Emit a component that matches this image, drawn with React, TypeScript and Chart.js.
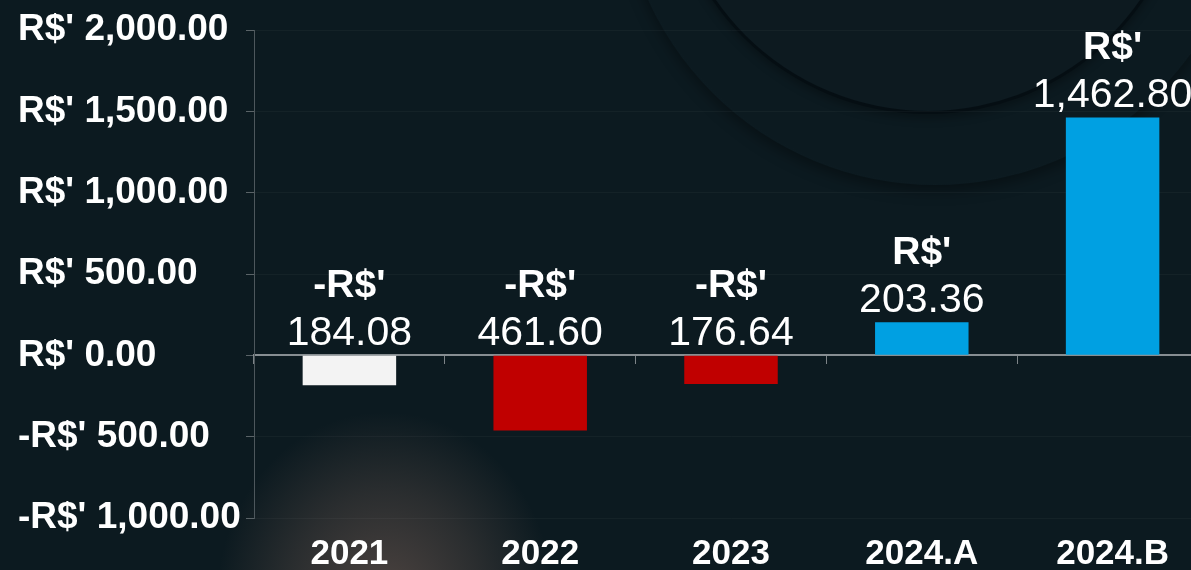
import React, { useEffect, useRef } from 'react';
import { Chart, registerables } from 'chart.js';

Chart.register(...registerables);

const categories = ['2021', '2022', '2023', '2024.A', '2024.B'];
const values = [-184.08, -461.6, -176.64, 203.36, 1462.8];
const barColors = ['#f3f3f3', '#c00000', '#c00000', '#00a0e2', '#00a0e2'];
const yMin = -1000;
const yMax = 2000;
const yStep = 500;

const FONT = '"Liberation Sans", Arial, sans-serif';

function fmtNum(v: number): string {
  return Math.abs(v).toLocaleString('en-US', { minimumFractionDigits: 2, maximumFractionDigits: 2 });
}
function fmtTick(v: number): string {
  return (v < 0 ? '-' : '') + "R$' " + fmtNum(v);
}

const valueLabels = {
  id: 'valueLabels',
  afterDatasetsDraw(chart: any) {
    const { ctx } = chart;
    const meta = chart.getDatasetMeta(0);
    const ys = chart.scales.y;
    const zero = ys.getPixelForValue(0);
    ctx.save();
    ctx.fillStyle = '#ffffff';
    ctx.textAlign = 'center';
    ctx.textBaseline = 'alphabetic';
    meta.data.forEach((bar: any, i: number) => {
      const v = values[i];
      const base = v >= 0 ? bar.y : zero;
      const y2 = base - 10;
      ctx.font = `41px ${FONT}`;
      ctx.fillText(fmtNum(v), bar.x, y2);
      ctx.font = `bold 39px ${FONT}`;
      ctx.fillText((v < 0 ? '-' : '') + "R$'", bar.x, y2 - 48);
    });
    ctx.restore();
  },
};

export default function App() {
  const ref = useRef<HTMLCanvasElement | null>(null);

  useEffect(() => {
    if (!ref.current) return;
    const chart = new Chart(ref.current, {
      type: 'bar',
      data: {
        labels: categories,
        datasets: [
          {
            data: values,
            backgroundColor: barColors,
            borderWidth: 0,
            categoryPercentage: 1,
            barPercentage: 0.49,
            xAxisID: 'x',
            yAxisID: 'y',
          },
        ],
      },
      options: {
        animation: false,
        responsive: true,
        maintainAspectRatio: false,
        layout: { padding: { left: 18, top: 30, right: 0, bottom: 0 } },
        plugins: {
          legend: { display: false },
          tooltip: { enabled: false },
          title: { display: false },
        },
        scales: {
          x: {
            type: 'category',
            position: 'bottom',
            offset: true,
            grid: { display: false, drawTicks: false },
            border: { display: false },
            ticks: {
              color: '#ffffff',
              font: { family: FONT, size: 35, weight: 'bold' },
              padding: 15,
              maxRotation: 0,
              autoSkip: false,
            },
            afterFit(scale: any) {
              scale.height = 52;
            },
          },
          x2: {
            type: 'category',
            position: { y: 0 },
            offset: true,
            grid: {
              drawOnChartArea: false,
              offset: true,
              tickLength: 8,
              tickColor: '#7d8488',
              tickWidth: 1,
            },
            border: { display: true, color: '#878e92', width: 2 },
            ticks: { display: false },
          },
          y: {
            type: 'linear',
            min: yMin,
            max: yMax,
            ticks: {
              stepSize: yStep,
              color: '#ffffff',
              font: { family: FONT, size: 37, weight: 'bold' },
              crossAlign: 'far',
              callback: (v: any) => fmtTick(Number(v)),
            },
            grid: {
              color: 'rgba(255,255,255,0.035)',
              tickColor: '#5a6367',
              tickLength: 8,
              drawTicks: true,
            },
            border: { display: true, color: '#4d575c', width: 1 },
            afterFit(scale: any) {
              scale.width = 236;
            },
          },
        },
      },
      plugins: [valueLabels],
    } as any);
    return () => chart.destroy();
  }, []);

  return (
    <div
      style={{
        position: 'fixed',
        left: 0,
        top: 0,
        width: 1191,
        height: 570,
        overflow: 'hidden',
        background: '#0c1a20',
      }}
    >
      <div
        style={{
          position: 'absolute',
          left: 935 - 315,
          top: -130 - 315,
          width: 630,
          height: 630,
          borderRadius: '50%',
          background: 'radial-gradient(circle, rgba(24,44,54,0.0) 70%, rgba(24,44,54,0.55) 88%, rgba(24,44,54,0.2) 100%)',
          boxShadow: '0 6px 14px rgba(0,0,0,0.35)',
        }}
      />
      <div
        style={{
          position: 'absolute',
          left: 925 - 258,
          top: -150 - 258,
          width: 516,
          height: 516,
          borderRadius: '50%',
          border: '3px solid rgba(3,10,14,0.7)',
          background: '#0d1a20',
          boxShadow: '0 4px 10px rgba(0,0,0,0.3)',
        }}
      />
      <div
        style={{
          position: 'absolute',
          left: 385 - 170,
          top: 600 - 190,
          width: 340,
          height: 380,
          borderRadius: '50%',
          background: 'radial-gradient(ellipse at center, rgba(112,90,82,0.65) 0%, rgba(112,90,82,0.3) 40%, rgba(112,90,82,0) 70%)',
        }}
      />
      <div style={{ position: 'absolute', left: 0, top: 0, width: 1208, height: 570 }}>
        <canvas ref={ref} />
      </div>
    </div>
  );
}
